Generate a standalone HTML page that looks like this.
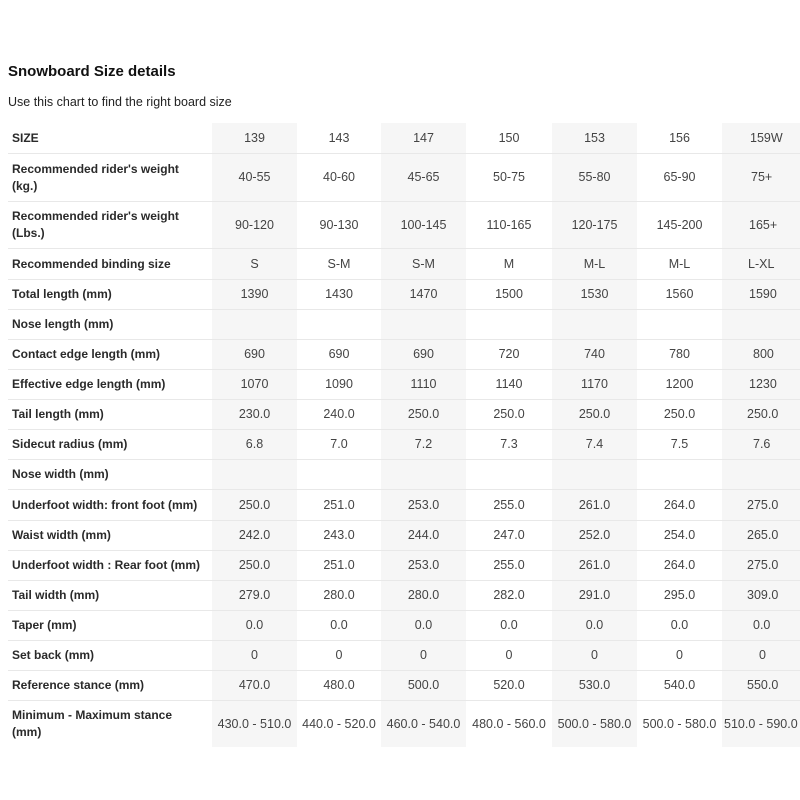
<!DOCTYPE html>
<html><head><style>
html,body{margin:0;padding:0;width:800px;height:800px;overflow:hidden;background:#fff;font-family:"Liberation Sans","DejaVu Sans",sans-serif;}
h1{position:absolute;left:8px;top:63px;margin:0;font-size:15px;font-weight:bold;color:#111;}
p{position:absolute;left:8px;top:95px;margin:0;font-size:12.5px;color:#222;}
table{position:absolute;left:8px;top:123px;border-collapse:collapse;table-layout:fixed;width:830px;}
td{padding:0;text-align:center;font-size:12.5px;color:#444;border-bottom:1px solid #e8e8e8;}
td:first-child{text-align:left;font-weight:bold;color:#2a2a2a;font-size:12px;padding-left:4px;line-height:17px;padding-top:1px;}
tr:last-child td{border-bottom:none;}
td.s{background:#f6f6f6;}
</style></head><body>
<h1>Snowboard Size details</h1>
<p>Use this chart to find the right board size</p>
<table>
<colgroup><col style="width:204px"><col style="width:85px"><col style="width:84px"><col style="width:85px"><col style="width:86px"><col style="width:85px"><col style="width:85px"><col style="width:116px"></colgroup>
<tr style="height:30px"><td>SIZE</td><td class="s">139</td><td>143</td><td class="s">147</td><td>150</td><td class="s">153</td><td>156</td><td class="s" style="text-align:left;padding-left:28px">159W</td></tr>
<tr style="height:48px"><td>Recommended rider's weight<br>(kg.)</td><td class="s">40-55</td><td>40-60</td><td class="s">45-65</td><td>50-75</td><td class="s">55-80</td><td>65-90</td><td class="s" style="text-align:left;padding-left:29px">75+</td></tr>
<tr style="height:47px"><td>Recommended rider's weight<br>(Lbs.)</td><td class="s">90-120</td><td>90-130</td><td class="s">100-145</td><td>110-165</td><td class="s">120-175</td><td>145-200</td><td class="s" style="text-align:left;padding-left:27px">165+</td></tr>
<tr style="height:31px"><td>Recommended binding size</td><td class="s">S</td><td>S-M</td><td class="s">S-M</td><td>M</td><td class="s">M-L</td><td>M-L</td><td class="s" style="text-align:left;padding-left:26px">L-XL</td></tr>
<tr style="height:30px"><td>Total length (mm)</td><td class="s">1390</td><td>1430</td><td class="s">1470</td><td>1500</td><td class="s">1530</td><td>1560</td><td class="s" style="text-align:left;padding-left:27px">1590</td></tr>
<tr style="height:30px"><td>Nose length (mm)</td><td class="s"></td><td></td><td class="s"></td><td></td><td class="s"></td><td></td><td class="s"></td></tr>
<tr style="height:30px"><td>Contact edge length (mm)</td><td class="s">690</td><td>690</td><td class="s">690</td><td>720</td><td class="s">740</td><td>780</td><td class="s" style="text-align:left;padding-left:31px">800</td></tr>
<tr style="height:30px"><td>Effective edge length (mm)</td><td class="s">1070</td><td>1090</td><td class="s">1110</td><td>1140</td><td class="s">1170</td><td>1200</td><td class="s" style="text-align:left;padding-left:27px">1230</td></tr>
<tr style="height:30px"><td>Tail length (mm)</td><td class="s">230.0</td><td>240.0</td><td class="s">250.0</td><td>250.0</td><td class="s">250.0</td><td>250.0</td><td class="s" style="text-align:left;padding-left:25px">250.0</td></tr>
<tr style="height:30px"><td>Sidecut radius (mm)</td><td class="s">6.8</td><td>7.0</td><td class="s">7.2</td><td>7.3</td><td class="s">7.4</td><td>7.5</td><td class="s" style="text-align:left;padding-left:31px">7.6</td></tr>
<tr style="height:30px"><td>Nose width (mm)</td><td class="s"></td><td></td><td class="s"></td><td></td><td class="s"></td><td></td><td class="s"></td></tr>
<tr style="height:31px"><td>Underfoot width: front foot (mm)</td><td class="s">250.0</td><td>251.0</td><td class="s">253.0</td><td>255.0</td><td class="s">261.0</td><td>264.0</td><td class="s" style="text-align:left;padding-left:25px">275.0</td></tr>
<tr style="height:30px"><td>Waist width (mm)</td><td class="s">242.0</td><td>243.0</td><td class="s">244.0</td><td>247.0</td><td class="s">252.0</td><td>254.0</td><td class="s" style="text-align:left;padding-left:25px">265.0</td></tr>
<tr style="height:30px"><td>Underfoot width : Rear foot (mm)</td><td class="s">250.0</td><td>251.0</td><td class="s">253.0</td><td>255.0</td><td class="s">261.0</td><td>264.0</td><td class="s" style="text-align:left;padding-left:25px">275.0</td></tr>
<tr style="height:30px"><td>Tail width (mm)</td><td class="s">279.0</td><td>280.0</td><td class="s">280.0</td><td>282.0</td><td class="s">291.0</td><td>295.0</td><td class="s" style="text-align:left;padding-left:25px">309.0</td></tr>
<tr style="height:30px"><td>Taper (mm)</td><td class="s">0.0</td><td>0.0</td><td class="s">0.0</td><td>0.0</td><td class="s">0.0</td><td>0.0</td><td class="s" style="text-align:left;padding-left:31px">0.0</td></tr>
<tr style="height:30px"><td>Set back (mm)</td><td class="s">0</td><td>0</td><td class="s">0</td><td>0</td><td class="s">0</td><td>0</td><td class="s" style="text-align:left;padding-left:37px">0</td></tr>
<tr style="height:30px"><td>Reference stance (mm)</td><td class="s">470.0</td><td>480.0</td><td class="s">500.0</td><td>520.0</td><td class="s">530.0</td><td>540.0</td><td class="s" style="text-align:left;padding-left:25px">550.0</td></tr>
<tr style="height:47px"><td>Minimum - Maximum stance<br>(mm)</td><td class="s">430.0 - 510.0</td><td>440.0 - 520.0</td><td class="s">460.0 - 540.0</td><td>480.0 - 560.0</td><td class="s">500.0 - 580.0</td><td>500.0 - 580.0</td><td class="s" style="text-align:left;padding-left:2px">510.0 - 590.0</td></tr>
</table>
</body></html>
